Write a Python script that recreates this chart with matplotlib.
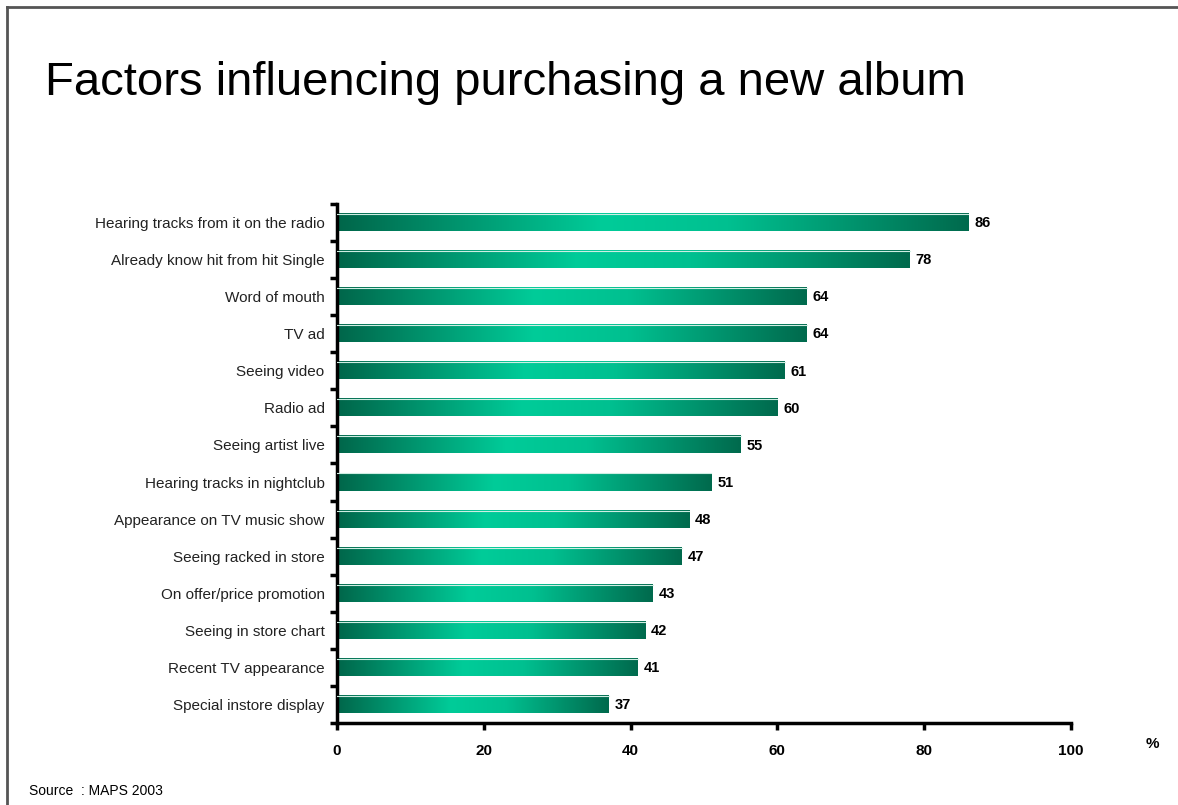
import numpy as np
import matplotlib.pyplot as plt
from matplotlib.colors import LinearSegmentedColormap

# Survey data
factors = [
    'Hearing tracks from it on the radio',
    'Already know hit from hit Single',
    'Word of mouth',
    'TV ad',
    'Seeing video',
    'Radio ad',
    'Seeing artist live',
    'Hearing tracks in nightclub',
    'Appearance on TV music show',
    'Seeing racked in store',
    'On offer/price promotion',
    'Seeing in store chart',
    'Recent TV appearance',
    'Special instore display',
]
percent = [86, 78, 64, 64, 61, 60, 55, 51, 48, 47, 43, 42, 41, 37]
xticks = [0, 20, 40, 60, 80, 100]

plt.rcParams['font.family'] = ['Liberation Sans', 'DejaVu Sans']

fig = plt.figure(figsize=(11.78, 8.05), dpi=100)
ax = fig.add_axes([0.2861, 0.1019, 0.6231, 0.6447])

# dark - bright - dark gradient along each bar
grad_cmap = LinearSegmentedColormap.from_list(
    'bar_grad', [(0.0, '#00664a'), (0.42, '#00cc99'), (0.62, '#00c090'), (1.0, '#006a4d')])
grad = np.linspace(0, 1, 256).reshape(1, -1)

bar_h = 0.46
for i, v in enumerate(percent):
    ax.imshow(grad, cmap=grad_cmap, aspect='auto', interpolation='bicubic',
              extent=(0, v, i + bar_h / 2, i - bar_h / 2), zorder=2)
    ax.plot([0, v], [i - bar_h / 2, i - bar_h / 2], color='#cfeee3', lw=0.8, zorder=3)
    ax.text(v + 0.8, i + 0.02, str(v), va='center', ha='left',
            fontsize=10.5, fontweight='bold', color='black')

ax.set_xlim(0, 100)
ax.set_ylim(len(factors) - 0.5, -0.5)

ax.set_yticks(range(len(factors)))
ax.set_yticklabels(factors, fontsize=11, color='#222222')
ax.set_yticks(np.arange(-0.5, len(factors), 1), minor=True)
ax.tick_params(axis='y', which='major', length=0, pad=9)
ax.tick_params(axis='y', which='minor', length=5, width=2.5, direction='out')

ax.set_xticks(xticks)
ax.set_xticklabels([str(t) for t in xticks], fontsize=11, fontweight='bold')
ax.tick_params(axis='x', length=5, width=2.5, direction='out', pad=10)

for side in ['top', 'right']:
    ax.spines[side].set_visible(False)
for side in ['left', 'bottom']:
    ax.spines[side].set_linewidth(2.5)

fig.text(0.978, 0.076, '%', fontsize=11, fontweight='bold', ha='center', va='center')

fig.text(0.038, 0.882, 'Factors influencing purchasing a new album',
         fontsize=34, ha='left', va='baseline')

fig.text(0.025, 0.018, 'Source  : MAPS 2003', fontsize=10, ha='left', va='center')

# slide frame on top and left edges
fig.add_artist(plt.Line2D([0.006, 1.0], [0.991, 0.991], color='#555555', lw=2,
                          transform=fig.transFigure))
fig.add_artist(plt.Line2D([0.006, 0.006], [0.0, 0.991], color='#555555', lw=2,
                          transform=fig.transFigure))

fig.savefig('out.png', dpi=100)
